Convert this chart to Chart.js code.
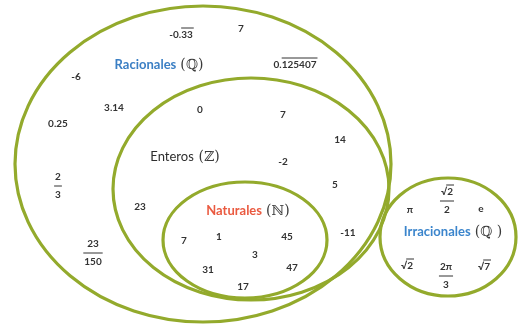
<!DOCTYPE html>
<html>
<head>
<meta charset="utf-8">
<script src="https://cdn.jsdelivr.net/npm/chart.js@4"></script>
<style>
  html, body { margin: 0; padding: 0; background: #fff; }
  #wrap { width: 518px; height: 330px; }
</style>
</head>
<body>
<div id="wrap"><canvas id="venn" width="518" height="330"></canvas></div>
<script>
/* ================= DATA ================= */

// number sets (outer -> inner, then the separate one)
const setNames = ["Racionales", "Enteros", "Naturales", "Irracionales"];
const setSymbols = ["ℚ", "ℤ", "ℕ", "ℚ "];

// members shown in each region ( (..) = repeating digits, a/b = fraction )
const racionalesOnly = ["-0.(33)", "7", "0.(125407)", "-6", "3.14", "0.25", "2/3", "23/150"];
const enterosOnly = ["0", "7", "14", "-2", "5", "23", "-11"];
const naturales = ["7", "1", "45", "3", "31", "47", "17"];
const irracionales = ["π", "√2/2", "e", "√2", "2π/3", "√7"];

/* ================= LAYOUT ================= */

const ellipseCx = [203, 251, 245, 448];
const ellipseCy = [164, 189, 240, 237];
const ellipseRx = [188, 138, 82, 68];
const ellipseRy = [158, 111, 58, 59];

const titleX = [159, 185, 248, 453];
const titleY = [65, 157, 211, 232];

const racionalesX = [181, 241, 295, 76, 114, 58, 58, 93];
const racionalesY = [35, 29, 65, 77, 108, 124, 186, 253];
const enterosX = [200, 283, 340, 283, 335, 140, 348];
const enterosY = [110, 115, 140, 162, 185, 207, 233];
const naturalesX = [184, 219, 287, 255, 208, 292, 243];
const naturalesY = [241, 237, 237, 255, 270, 268, 287];
const irracionalesX = [410, 447, 481, 407, 446, 484];
const irracionalesY = [210, 201, 209, 266, 276, 267];

const titleColors = ["#3b7fc4", "#2e2e2e", "#ea5a40", "#3b85cc"];
const lineColor = "#93aa2c";
const numColor = "#333";
const numFont = "bold 10px Lato";

/* ================= HELPERS ================= */

function toPoints(xs, ys) {
  return xs.map((x, i) => ({ x, y: ys[i] }));
}

// split "-0.(33)" or "√2" into pieces, some with a bar on top
function pieces(s) {
  if (s.startsWith("√")) return [{ t: "√", bar: false }, { t: s.slice(1), bar: true, rad: true }];
  const m = s.match(/^(.*)\((.*)\)$/);
  if (m) return [{ t: m[1], bar: false }, { t: m[2], bar: true }];
  return [{ t: s, bar: false }];
}

function widthOf(ctx, s) {
  return pieces(s).reduce((w, p) => w + ctx.measureText(p.t).width, 0);
}

function drawPlain(ctx, s, x, y) {
  const parts = pieces(s);
  let left = x - widthOf(ctx, s) / 2;
  parts.forEach(p => {
    const w = ctx.measureText(p.t).width;
    ctx.fillText(p.t, left, y);
    if (p.bar) {
      ctx.beginPath();
      ctx.moveTo(left - (p.rad ? 1 : 0), y - 7);
      ctx.lineTo(left + w + 1, y - 7);
      ctx.stroke();
    }
    left += w;
  });
}

function drawMath(ctx, s, x, y) {
  if (s.includes("/")) {
    const [num, den] = s.split("/");
    const w = Math.max(widthOf(ctx, num), widthOf(ctx, den)) + 2;
    drawPlain(ctx, num, x, y - 9);
    drawPlain(ctx, den, x, y + 9);
    ctx.beginPath();
    ctx.moveTo(x - w / 2, y);
    ctx.lineTo(x + w / 2, y);
    ctx.stroke();
    return;
  }
  drawPlain(ctx, s, x, y);
}

/* ================= PLUGIN ================= */

const vennPlugin = {
  id: "venn",
  afterDatasetsDraw(chart) {
    const { ctx, scales: { x, y } } = chart;
    ctx.save();

    // set outlines
    ctx.strokeStyle = lineColor;
    ctx.lineWidth = 3.2;
    ellipseCx.forEach((cx, i) => {
      const px = x.getPixelForValue(cx);
      const py = y.getPixelForValue(ellipseCy[i]);
      const rx = Math.abs(x.getPixelForValue(cx + ellipseRx[i]) - px);
      const ry = Math.abs(y.getPixelForValue(ellipseCy[i] + ellipseRy[i]) - py);
      ctx.beginPath();
      ctx.ellipse(px, py, rx, ry, 0, 0, Math.PI * 2);
      ctx.stroke();
    });

    ctx.textBaseline = "middle";
    ctx.textAlign = "left";

    chart.data.datasets.forEach((ds, di) => {
      const meta = chart.getDatasetMeta(di);
      meta.data.forEach((pt, i) => {
        if (ds.kind === "title") {
          ctx.font = "bold 13px Lato";
          const nameW = ctx.measureText(setNames[i]).width;
          ctx.font = "14px 'DejaVu Serif'";
          const symW = ctx.measureText("(" + setSymbols[i] + ")").width;
          const left = pt.x - (nameW + 4 + symW) / 2;
          ctx.font = i === 1 ? "13px Lato" : "bold 13px Lato";
          ctx.fillStyle = titleColors[i];
          ctx.fillText(setNames[i], left, pt.y);
          ctx.font = "14px 'DejaVu Serif'";
          ctx.fillStyle = "#3a3a3a";
          ctx.fillText("(" + setSymbols[i] + ")", left + nameW + 4, pt.y);
        } else {
          ctx.font = numFont;
          ctx.fillStyle = numColor;
          ctx.strokeStyle = numColor;
          ctx.lineWidth = 1;
          drawMath(ctx, ds.labels[i], pt.x, pt.y);
        }
      });
    });

    ctx.restore();
  }
};

/* ================= CHART ================= */

new Chart(document.getElementById("venn"), {
  type: "scatter",
  data: {
    datasets: [
      { kind: "title", data: toPoints(titleX, titleY), pointRadius: 0 },
      { labels: racionalesOnly, data: toPoints(racionalesX, racionalesY), pointRadius: 0 },
      { labels: enterosOnly, data: toPoints(enterosX, enterosY), pointRadius: 0 },
      { labels: naturales, data: toPoints(naturalesX, naturalesY), pointRadius: 0 },
      { labels: irracionales, data: toPoints(irracionalesX, irracionalesY), pointRadius: 0 }
    ]
  },
  options: {
    responsive: false,
    animation: false,
    layout: { padding: 0 },
    plugins: { legend: { display: false }, tooltip: { enabled: false } },
    scales: {
      x: { type: "linear", min: 0, max: 518, display: false },
      y: { type: "linear", min: 0, max: 330, reverse: true, display: false }
    }
  },
  plugins: [vennPlugin]
});
</script>
</body>
</html>
